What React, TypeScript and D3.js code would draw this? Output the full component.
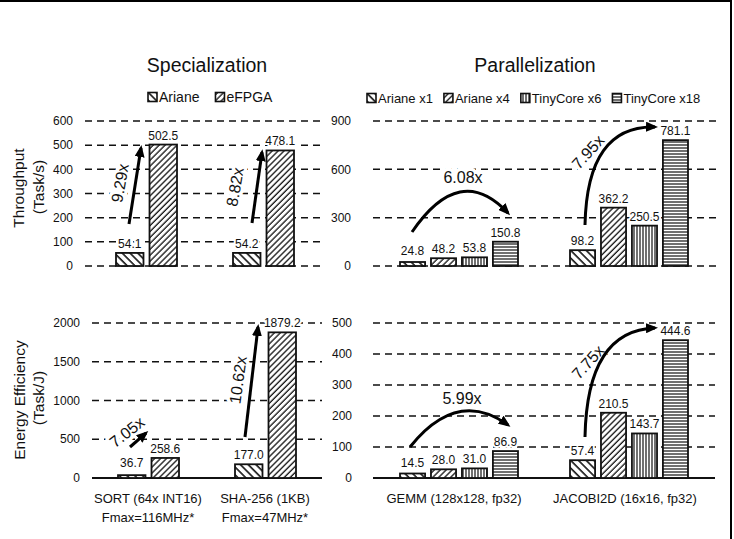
import React from 'react';
import * as d3 from 'd3';

// ---------- data ----------
const specGroups = ['SORT (64x INT16)', 'SHA-256 (1KB)'];
const specSubLabels = ['Fmax=116MHz*', 'Fmax=47MHz*'];
const specSeries = ['Ariane', 'eFPGA'];
const specThroughput = [[54.1, 502.5], [54.2, 478.1]];
const specEnergy = [[36.7, 258.6], [177.0, 1879.2]];
const parGroups = ['GEMM (128x128, fp32)', 'JACOBI2D (16x16, fp32)'];
const parSeries = ['Ariane x1', 'Ariane x4', 'TinyCore x6', 'TinyCore x18'];
const parThroughput = [[24.8, 48.2, 53.8, 150.8], [98.2, 362.2, 250.5, 781.1]];
const parEnergy = [[14.5, 28.0, 31.0, 86.9], [57.4, 210.5, 143.7, 444.6]];
const specThroughputTicks = [0, 100, 200, 300, 400, 500, 600];
const specEnergyTicks = [0, 500, 1000, 1500, 2000];
const parThroughputTicks = [0, 300, 600, 900];
const parEnergyTicks = [0, 100, 200, 300, 400, 500];
const specThroughputGains = ['9.29x', '8.82x'];
const specEnergyGains = ['7.05x', '10.62x'];
const parThroughputGains = ['6.08x', '7.95x'];
const parEnergyGains = ['5.99x', '7.75x'];

const patternOf: Record<string, string> = {
  'Ariane': 'pBack', 'eFPGA': 'pFwd',
  'Ariane x1': 'pBack', 'Ariane x4': 'pFwd', 'TinyCore x6': 'pVert', 'TinyCore x18': 'pHoriz',
};

const FONT = '"Liberation Sans", Arial, Helvetica, sans-serif';

let ctx: CanvasRenderingContext2D | null = null;
function textWidth(s: string, size: number): number {
  if (!ctx && typeof document !== 'undefined') ctx = document.createElement('canvas').getContext('2d');
  if (!ctx) return s.length * size * 0.55;
  ctx.font = `${size}px "Liberation Sans", Arial, sans-serif`;
  return ctx.measureText(s).width;
}

type Ann = {
  text: string; curve: boolean;
  p0: [number, number]; c?: [number, number]; p2: [number, number];
  label: [number, number]; angle: number;
};

type PanelProps = {
  groups: string[]; series: string[]; values: number[][]; ticks: number[];
  yTop: number; yBottom: number; xRange: [number, number]; inner: number; padInner: number;
  grid: [number, number]; tickX: number; solidZero: boolean; anns: Ann[];
};

function Panel(p: PanelProps) {
  const yMax = p.ticks[p.ticks.length - 1];
  const y = d3.scaleLinear().domain([0, yMax]).range([p.yBottom, p.yTop]);
  const x0 = d3.scaleBand<string>().domain(p.groups).range(p.xRange);
  const x1 = d3.scaleBand<string>().domain(p.series).range([0, p.inner]).paddingInner(p.padInner);
  const off = (x0.bandwidth() - p.inner) / 2;
  const gx = (gi: number) => (x0(p.groups[gi]) as number);
  const line = d3.line<[number, number]>();
  return (
    <g>
      {p.ticks.map((t) => (
        <g key={t}>
          {!(t === 0 && p.solidZero) && (
            <line x1={p.grid[0]} x2={p.grid[1]} y1={y(t)} y2={y(t)} stroke="#111" strokeWidth={1.5} strokeDasharray="7,5" />
          )}
          <text x={p.tickX} y={y(t)} dy="0.35em" textAnchor="end" fontSize={12} fill="#111">{t}</text>
        </g>
      ))}
      {p.solidZero && (
        <line x1={p.grid[0]} x2={p.grid[1]} y1={y(0)} y2={y(0)} stroke="#111" strokeWidth={2.2} />
      )}
      {p.values.map((row, gi) => row.map((v, si) => {
        const bx = gx(gi) + off + (x1(p.series[si]) as number);
        const bw = x1.bandwidth();
        return (
          <rect key={gi + '-' + si} x={bx} y={y(v)} width={bw} height={y(0) - y(v)}
            fill={`url(#${patternOf[p.series[si]]})`} stroke="#111" strokeWidth={1.8} />
        );
      }))}
      {p.values.map((row, gi) => row.map((v, si) => {
        const bx = gx(gi) + off + (x1(p.series[si]) as number) + x1.bandwidth() / 2;
        const ty = Math.min(y(v) - 5, y(0) - 11);
        return (
          <text key={'l' + gi + '-' + si} x={bx} y={ty} textAnchor="middle" fontSize={12} fill="#111"
            stroke="#fff" strokeWidth={4} paintOrder="stroke" strokeLinejoin="round">{v.toFixed(1)}</text>
        );
      }))}
      {p.anns.map((a, i) => {
        const base = gx(i);
        const P = (q: [number, number]): [number, number] => [base + q[0], y(q[1])];
        const a0 = P(a.p0), a2 = P(a.p2);
        let d: string;
        if (a.curve && a.c) {
          const c = P(a.c);
          const path = d3.path();
          path.moveTo(a0[0], a0[1]);
          path.quadraticCurveTo(c[0], c[1], a2[0], a2[1]);
          d = path.toString();
        } else {
          d = line([a0, a2]) as string;
        }
        const l = P(a.label);
        return (
          <g key={'a' + i}>
            <text x={l[0]} y={l[1]} transform={`rotate(${a.angle},${l[0]},${l[1]})`} textAnchor="middle" dy="0.35em"
              fontSize={16} fill="#111" stroke="#fff" strokeWidth={7} paintOrder="stroke" strokeLinejoin="round">{a.text}</text>
            <path d={d} fill="none" stroke="#000" strokeWidth={3} markerEnd="url(#arrowHead)" />
          </g>
        );
      })}
    </g>
  );
}

function Legend({ x, y, labels, size, gap }: { x: number; y: number; labels: string[]; size: number; gap: number }) {
  let cx = x;
  const items = labels.map((label) => {
    const sx = cx;
    cx += 11 + textWidth(label, size) + gap;
    return (
      <g key={label}>
        <rect x={sx} y={y - 9.5} width={9} height={9} fill={`url(#${patternOf[label]})`} stroke="#111" strokeWidth={1.6} />
        <text x={sx + 11} y={y} fontSize={size} fill="#111">{label}</text>
      </g>
    );
  });
  return <g>{items}</g>;
}

export default function App() {
  return (
    <svg width={734} height={539} style={{ position: 'absolute', left: 0, top: 0, background: '#fff' }} fontFamily={FONT}>
      <defs>
        <pattern id="pBack" width={5.5} height={5.5} patternUnits="userSpaceOnUse" patternTransform="rotate(-45)">
          <rect width={5.5} height={5.5} fill="#fff" />
          <line x1={1} y1={0} x2={1} y2={5.5} stroke="#111" strokeWidth={1.6} />
        </pattern>
        <pattern id="pFwd" width={4.2} height={4.2} patternUnits="userSpaceOnUse" patternTransform="rotate(45)">
          <rect width={4.2} height={4.2} fill="#fff" />
          <line x1={1} y1={0} x2={1} y2={4.2} stroke="#111" strokeWidth={1.3} />
        </pattern>
        <pattern id="pVert" width={3} height={3} patternUnits="userSpaceOnUse">
          <rect width={3} height={3} fill="#fff" />
          <line x1={1} y1={0} x2={1} y2={3} stroke="#111" strokeWidth={1.2} />
        </pattern>
        <pattern id="pHoriz" width={3} height={3} patternUnits="userSpaceOnUse">
          <rect width={3} height={3} fill="#fff" />
          <line x1={0} y1={1} x2={3} y2={1} stroke="#111" strokeWidth={1.2} />
        </pattern>
        <marker id="arrowHead" markerUnits="userSpaceOnUse" markerWidth={12} markerHeight={10} refX={9} refY={5} orient="auto">
          <path d="M0,0 L12,5 L0,10 Z" fill="#000" />
        </marker>
      </defs>
      <rect x={0} y={0} width={734} height={539} fill="#fff" />
      <line x1={0} x2={732} y1={1} y2={1} stroke="#000" strokeWidth={2} />
      <line x1={731} x2={731} y1={0} y2={539} stroke="#000" strokeWidth={2} />

      {/* titles */}
      <text x={207} y={72} textAnchor="middle" fontSize={19.5} fill="#111">Specialization</text>
      <text x={535} y={72} textAnchor="middle" fontSize={19.5} fill="#111">Parallelization</text>
      <Legend x={148} y={102} labels={specSeries} size={14} gap={16} />
      <Legend x={367} y={103} labels={parSeries} size={13} gap={11} />

      {/* y titles */}
      <text transform="translate(24,188) rotate(-90)" textAnchor="middle" fontSize={15.5} fill="#111">Throughput</text>
      <text transform="translate(44,187) rotate(-90)" textAnchor="middle" fontSize={15.5} fill="#111">(Task/s)</text>
      <text transform="translate(25,400) rotate(-90)" textAnchor="middle" fontSize={15.5} fill="#111">Energy Efficiency</text>
      <text transform="translate(44,398) rotate(-90)" textAnchor="middle" fontSize={15.5} fill="#111">(Task/J)</text>

      <Panel groups={specGroups} series={specSeries} values={specThroughput} ticks={specThroughputTicks}
        yTop={121} yBottom={266} xRange={[88, 322]} inner={61} padInner={0.18} grid={[85, 323]} tickX={73} solidZero={false}
        anns={[
          { text: specThroughputGains[0], curve: false, p0: [41, 174], p2: [53, 488], label: [32, 343], angle: -80 },
          { text: specThroughputGains[1], curve: false, p0: [47, 178], p2: [57, 471], label: [30, 327], angle: -80 },
        ]} />
      <Panel groups={parGroups} series={parSeries} values={parThroughput} ticks={parThroughputTicks}
        yTop={121} yBottom={266} xRange={[374, 714]} inner={118} padInner={0.19} grid={[373, 717]} tickX={351} solidZero={false}
        anns={[
          { text: parThroughputGains[0], curve: true, p0: [38, 211], c: [86, 649], p2: [134, 329], label: [89, 552], angle: 0 },
          { text: parThroughputGains[1], curve: true, p0: [41, 254], c: [43, 875], p2: [111, 863], label: [44, 708], angle: -48 },
        ]} />
      <Panel groups={specGroups} series={specSeries} values={specEnergy} ticks={specEnergyTicks}
        yTop={323} yBottom={478} xRange={[90, 324]} inner={61} padInner={0.18} grid={[92, 322]} tickX={80} solidZero={true}
        anns={[
          { text: specEnergyGains[0], curve: false, p0: [40, 400], p2: [56, 580], label: [37, 594], angle: -38 },
          { text: specEnergyGains[1], curve: false, p0: [38, 529], p2: [51, 1948], label: [31, 1265], angle: -82 },
        ]} />
      <Panel groups={parGroups} series={parSeries} values={parEnergy} ticks={parEnergyTicks}
        yTop={323} yBottom={478} xRange={[374, 714]} inner={118} padInner={0.19} grid={[373, 715]} tickX={352} solidZero={true}
        anns={[
          { text: parEnergyGains[0], curve: true, p0: [36, 100], c: [83, 290], p2: [134, 171], label: [88, 258], angle: 0 },
          { text: parEnergyGains[1], curve: true, p0: [41, 132], c: [43, 477], p2: [111, 484], label: [44, 374], angle: -48 },
        ]} />

      {/* x group labels */}
      {specGroups.map((g, i) => (
        <g key={g}>
          <text x={[148, 265][i]} y={503} textAnchor="middle" fontSize={13} fill="#111">{g}</text>
          <text x={[148, 265][i]} y={522} textAnchor="middle" fontSize={13} fill="#111">{specSubLabels[i]}</text>
        </g>
      ))}
      {parGroups.map((g, i) => (
        <text key={g} x={[454, 625][i]} y={503} textAnchor="middle" fontSize={13} fill="#111">{g}</text>
      ))}
    </svg>
  );
}
